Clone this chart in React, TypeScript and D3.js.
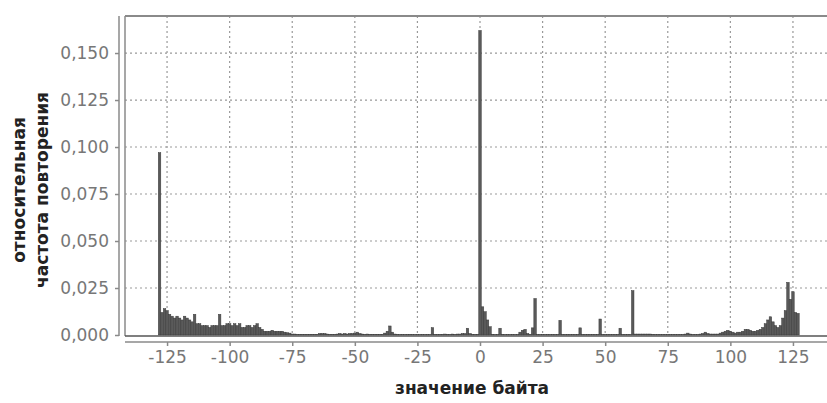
import { useEffect, useRef } from "react";
import * as d3 from "d3";

// byte values -128 .. 127
const byteValues = d3.range(-128, 128);

// relative frequency for bytes -128 .. -1
const freqNegative = [
  0.097, 0.012, 0.014, 0.013, 0.011, 0.010, 0.009, 0.010, 0.009, 0.008, 0.010, 0.009, 0.008, 0.007, 0.011, 0.006,
  0.006, 0.005, 0.005, 0.005, 0.004, 0.005, 0.005, 0.005, 0.011, 0.005, 0.005, 0.006, 0.006, 0.005, 0.006, 0.005,
  0.006, 0.004, 0.004, 0.005, 0.005, 0.004, 0.005, 0.006, 0.004, 0.003, 0.002, 0.002, 0.002, 0.0025, 0.002, 0.002,
  0.002, 0.002, 0.0015, 0.0012, 0.001, 0.0005, 0.0005, 0.0003, 0.0003, 0.0003, 0.0003, 0.0003, 0.0003, 0.0003, 0.0003, 0.0003,
  0.0008, 0.0008, 0.0008, 0.0005, 0.0003, 0.0003, 0.0003, 0.0005, 0.0008, 0.0005, 0.0008, 0.0005, 0.0008, 0.0008, 0.001, 0.0015,
  0.0008, 0.0005, 0.0003, 0.0005, 0.0003, 0.0003, 0.0003, 0.0003, 0.0003, 0.0003, 0.001, 0.002, 0.0048, 0.0015, 0.0005, 0.0003,
  0.0002, 0.0002, 0.0002, 0.0002, 0.0003, 0.0002, 0.0002, 0.0002, 0.0002, 0.0002, 0.0002, 0.0002, 0.0002, 0.0039, 0.0003, 0.0002,
  0.0003, 0.0003, 0.0005, 0.0003, 0.0003, 0.0005, 0.0003, 0.0005, 0.0005, 0.0008, 0.0008, 0.0036, 0.0008, 0.0003, 0.0003, 0.0003,
];

// relative frequency for bytes 0 .. 127
const freqPositive = [
  0.162, 0.015, 0.0124, 0.008, 0.0044, 0.0003, 0.0002, 0.0002, 0.0036, 0.0003, 0.0002, 0.0002, 0.0002, 0.0002, 0.0002, 0.0002,
  0.0015, 0.0025, 0.003, 0.0008, 0.0003, 0.0038, 0.0194, 0.0002, 0.0002, 0.0002, 0.0002, 0.0002, 0.0002, 0.0002, 0.0002, 0.0002,
  0.0078, 0.0002, 0.0002, 0.0002, 0.0002, 0.0002, 0.0002, 0.0002, 0.0038, 0.0002, 0.0002, 0.0002, 0.0002, 0.0002, 0.0002, 0.0002,
  0.0085, 0.0002, 0.0002, 0.0002, 0.0002, 0.0002, 0.0002, 0.0002, 0.0036, 0.0002, 0.0002, 0.0002, 0.0002, 0.0236, 0.0005, 0.0005,
  0.0005, 0.0005, 0.0005, 0.0005, 0.0005, 0.0003, 0.0002, 0.0002, 0.0002, 0.0002, 0.0002, 0.0002, 0.0002, 0.0002, 0.0002, 0.0002,
  0.0002, 0.0002, 0.0005, 0.001, 0.0005, 0.0002, 0.0002, 0.0002, 0.0005, 0.0008, 0.0015, 0.0008, 0.0005, 0.0005, 0.0005, 0.0005,
  0.001, 0.0015, 0.002, 0.0025, 0.002, 0.0015, 0.001, 0.0015, 0.0015, 0.002, 0.003, 0.003, 0.0025, 0.002, 0.002, 0.0025,
  0.003, 0.004, 0.006, 0.008, 0.0097, 0.007, 0.005, 0.004, 0.005, 0.009, 0.013, 0.028, 0.019, 0.023, 0.012, 0.0115,
];

const frequencies = freqNegative.concat(freqPositive);

const xTicks = [-125, -100, -75, -50, -25, 0, 25, 50, 75, 100, 125];
const yTicks = [0, 0.025, 0.05, 0.075, 0.1, 0.125, 0.15];

const xTitle = "значение байта";
const yTitleLines = ["относительная", "частота повторения"];

const ruLocale = d3.formatLocale({
  decimal: ",",
  thousands: " ",
  grouping: [3],
  currency: ["", ""],
  minus: "-",
});

function App() {
  const ref = useRef<SVGSVGElement>(null);

  useEffect(() => {
    const width = 827,
      height = 403;
    const plot = { left: 125, right: 827, top: 16, bottom: 336 };

    const svg = d3.select(ref.current);
    svg.selectAll("*").remove();
    svg.attr("width", width).attr("height", height);

    var x = d3.scaleLinear().domain([-141.8, 138.6]).range([plot.left, plot.right]);
    var y = d3.scaleLinear().domain([0, 0.1697]).range([plot.bottom - 1, plot.top]);

    const font = "'DejaVu Sans', Verdana, sans-serif";

    // gridlines
    const grid = svg.append("g").attr("stroke", "#999").attr("stroke-width", 1.2).attr("stroke-dasharray", "2,3");
    grid
      .selectAll("line.v")
      .data(xTicks)
      .join("line")
      .attr("x1", (d) => x(d))
      .attr("x2", (d) => x(d))
      .attr("y1", plot.top)
      .attr("y2", plot.bottom);
    grid
      .selectAll("line.h")
      .data(yTicks.filter((d) => d > 0))
      .join("line")
      .attr("class", "h")
      .attr("x1", plot.left)
      .attr("x2", plot.right)
      .attr("y1", (d) => y(d))
      .attr("y2", (d) => y(d));

    // bars
    const bw = x(1) - x(0);
    svg
      .append("g")
      .selectAll("rect")
      .data(byteValues)
      .join("rect")
      .attr("x", (d) => x(d) - bw / 2)
      .attr("width", bw)
      .attr("y", (d, i) => y(frequencies[i]))
      .attr("height", (d, i) => y(0) - y(frequencies[i]))
      .attr("fill", "#5a5a5a")
      .attr("stroke", "#3a3a3a")
      .attr("stroke-width", 0.5);

    // plot frame
    svg.append("line").attr("x1", plot.left).attr("x2", plot.right).attr("y1", plot.top).attr("y2", plot.top)
      .attr("stroke", "#8a8a8a").attr("stroke-width", 2);
    svg.append("line").attr("x1", plot.left).attr("x2", plot.left).attr("y1", plot.top).attr("y2", plot.bottom)
      .attr("stroke", "#8a8a8a").attr("stroke-width", 1.5);
    svg.append("line").attr("x1", plot.left).attr("x2", plot.right).attr("y1", plot.bottom).attr("y2", plot.bottom)
      .attr("stroke", "#555").attr("stroke-width", 1.5);

    // y axis
    const yAxis = svg
      .append("g")
      .attr("transform", "translate(119,0)")
      .call(
        d3.axisLeft(y).tickValues(yTicks).tickSize(4).tickPadding(6).tickFormat(ruLocale.format(".3f"))
      );
    yAxis.select(".domain").remove();
    yAxis.append("line").attr("x1", 0).attr("x2", 0).attr("y1", plot.top).attr("y2", plot.bottom)
      .attr("stroke", "#8a8a8a").attr("stroke-width", 1.5);
    yAxis.selectAll(".tick line").attr("stroke", "#8a8a8a").attr("stroke-width", 1.5);
    yAxis.selectAll(".tick text").attr("fill", "#777").style("font-size", "17px").style("font-family", font);

    // x axis
    const xAxis = svg
      .append("g")
      .attr("transform", "translate(0,342)")
      .call(d3.axisBottom(x).tickValues(xTicks).tickSize(4).tickPadding(5).tickFormat(ruLocale.format("d")));
    xAxis.select(".domain").remove();
    xAxis.append("line").attr("x1", plot.left).attr("x2", plot.right).attr("y1", 0).attr("y2", 0)
      .attr("stroke", "#8a8a8a").attr("stroke-width", 1.5);
    xAxis.selectAll(".tick line").attr("stroke", "#8a8a8a").attr("stroke-width", 1.5);
    xAxis.selectAll(".tick text").attr("fill", "#777").style("font-size", "17px").style("font-family", font);

    // X label
    svg
      .append("text")
      .attr("x", 472)
      .attr("y", 394)
      .attr("text-anchor", "middle")
      .style("font-family", font)
      .style("font-weight", "bold")
      .style("font-size", "17px")
      .attr("fill", "#222")
      .text(xTitle);

    // Y label (two lines)
    svg
      .selectAll("text.ylab")
      .data(yTitleLines)
      .join("text")
      .attr("class", "ylab")
      .attr("text-anchor", "middle")
      .attr("transform", (d, i) => `translate(${i === 0 ? 25 : 48},190)rotate(-90)`)
      .style("font-family", font)
      .style("font-weight", "bold")
      .style("font-size", "17px")
      .attr("fill", "#222")
      .text((d) => d);
  }, []);

  return <svg ref={ref} style={{ position: "absolute", left: 0, top: 0 }}></svg>;
}

export default App;
